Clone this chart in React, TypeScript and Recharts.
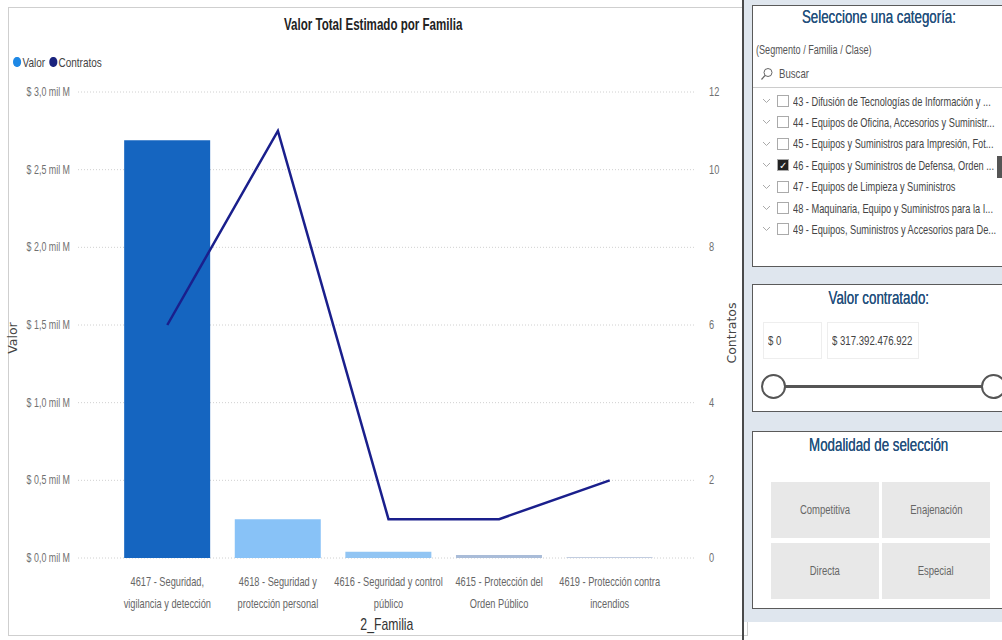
import React from 'react';
import { ComposedChart, Bar, Line, XAxis, YAxis, CartesianGrid, Cell } from 'recharts';

const familias = [
  '4617 - Seguridad,\nvigilancia y detección',
  '4618 - Seguridad y\nprotección personal',
  '4616 - Seguridad y control\npúblico',
  '4615 - Protección del\nOrden Público',
  '4619 - Protección contra\nincendios',
];
// valor in "mil M" (thousands of millions)
const valor = [2.69, 0.25, 0.04, 0.02, 0.007];
const contratos = [6, 11, 1, 1, 2];
const barColors = ['#1565C0', '#88C2F7', '#92C5F3', '#A9BCD8', '#C2CDE0'];
const valorTicks = [0, 0.5, 1, 1.5, 2, 2.5, 3];
const contratosTicks = [0, 2, 4, 6, 8, 10, 12];

const categorias = [
  '43 - Difusión de Tecnologías de Información y ...',
  '44 - Equipos de Oficina, Accesorios y Suministr...',
  '45 - Equipos y Suministros para Impresión, Fot...',
  '46 - Equipos y Suministros de Defensa, Orden ...',
  '47 - Equipos de Limpieza y Suministros',
  '48 - Maquinaria, Equipo y Suministros para la I...',
  '49 - Equipos, Suministros y Accesorios para De...',
];
const modalidades = ['Competitiva', 'Enajenación', 'Directa', 'Especial'];

const data = familias.map((f, i) => ({ familia: f, valor: valor[i], contratos: contratos[i] }));

const FONT = '"Liberation Sans", Arial, sans-serif';
const SQ = 0.74; // horizontal squeeze to mimic the condensed font

const fmtValor = (v: number) => `$ ${v.toFixed(1).replace('.', ',')} mil M`;

// narrow text for html
const N: React.FC<{ s?: number; origin?: string; style?: React.CSSProperties; children?: React.ReactNode }> = ({
  s = SQ,
  origin = 'left',
  style,
  children,
}) => (
  <span style={{ display: 'inline-block', whiteSpace: 'nowrap', transform: `scaleX(${s})`, transformOrigin: origin, ...style }}>
    {children}
  </span>
);

const FamiliaTick = (props: any) => {
  const { x, y, payload } = props;
  const lines = String(payload.value).split('\n');
  return (
    <g transform={`translate(${x},${y}) scale(${SQ},1)`}>
      {lines.map((l, i) => (
        <text key={i} x={0} y={20 + i * 22} textAnchor="middle" fill="#666" fontSize={12.5} fontFamily={FONT}>
          {l}
        </text>
      ))}
    </g>
  );
};

const ValorTick = (props: any) => {
  const { x, y, payload } = props;
  return (
    <g transform={`translate(${x},${y}) scale(${SQ},1)`}>
      <text x={0} y={0} dy={4} textAnchor="end" fill="#707070" fontSize={12} fontFamily={FONT}>
        {fmtValor(payload.value)}
      </text>
    </g>
  );
};

const ContratosTick = (props: any) => {
  const { x, y, payload } = props;
  return (
    <g transform={`translate(${x},${y}) scale(${SQ},1)`}>
      <text x={0} y={0} dy={4} textAnchor="start" fill="#707070" fontSize={12.5} fontFamily={FONT}>
        {payload.value}
      </text>
    </g>
  );
};

const Box: React.FC<{ top: number; height: number; children?: React.ReactNode }> = ({ top, height, children }) => (
  <div
    style={{
      position: 'absolute',
      left: 752,
      top,
      width: 260,
      height,
      background: '#fff',
      border: '1.5px solid #5a5a5a',
      boxSizing: 'border-box',
    }}
  >
    {children}
  </div>
);

const BoxTitle: React.FC<{ top: number; children?: React.ReactNode }> = ({ top, children }) => (
  <div style={{ position: 'absolute', left: 0, top, width: 252, textAlign: 'center', color: '#24507C', fontSize: 18.5, textShadow: '0 0 0.4px #24507C' }}>
    <N s={0.72} origin="center">{children}</N>
  </div>
);

const Chevron = () => (
  <svg width={12} height={8} style={{ marginRight: 4 }}>
    <polyline points="2,2 5.5,5.5 9,2" fill="none" stroke="#aaa" strokeWidth={1} />
  </svg>
);

export default function App() {
  return (
    <div style={{ position: 'absolute', left: 0, top: 0, width: 1002, height: 640, background: '#fff', overflow: 'hidden', fontFamily: FONT }}>
      {/* chart card */}
      <div style={{ position: 'absolute', left: 8, top: 7, width: 740, height: 629, border: '1px solid #cfcfcf', boxSizing: 'border-box' }} />
      <div style={{ position: 'absolute', left: 0, top: 15, width: 746, textAlign: 'center', fontSize: 17, fontWeight: 'bold', color: '#222' }}>
        <N s={0.68} origin="center">Valor Total Estimado por Familia</N>
      </div>
      <div style={{ position: 'absolute', left: 13, top: 55, fontSize: 13.5, color: '#444' }}>
        <N s={0.74}>
          <span style={{ display: 'inline-block', width: 11, height: 10, borderRadius: 5, background: '#1E88E5', marginRight: 2 }} />
          Valor
          <span style={{ display: 'inline-block', width: 11, height: 10, borderRadius: 5, background: '#1A237E', margin: '0 2px 0 5px' }} />
          Contratos
        </N>
      </div>
      <div style={{ position: 'absolute', left: 0, top: 0 }}>
        <ComposedChart width={740} height={640} data={data} margin={{ top: 92, right: 5, left: 8, bottom: 12 }} barCategoryGap="11%">
          <CartesianGrid yAxisId="left" vertical={false} stroke="#d0d0d0" strokeDasharray="1 2" />
          <XAxis
            dataKey="familia"
            tick={<FamiliaTick />}
            tickLine={false}
            axisLine={false}
            interval={0}
            height={70}
            padding={{ left: 34, right: 30 }}
          />
          <YAxis
            yAxisId="left"
            domain={[0, 3]}
            ticks={valorTicks}
            tick={<ValorTick />}
            tickLine={false}
            axisLine={false}
            width={70}
            tickMargin={2}
          />
          <YAxis
            yAxisId="right"
            orientation="right"
            domain={[0, 12]}
            ticks={contratosTicks}
            tick={<ContratosTick />}
            tickLine={false}
            axisLine={false}
            width={40}
            tickMargin={8}
          />
          <Bar yAxisId="left" dataKey="valor" isAnimationActive={false}>
            {data.map((d, i) => (
              <Cell key={d.familia} fill={barColors[i]} />
            ))}
          </Bar>
          <Line yAxisId="right" dataKey="contratos" type="linear" stroke="#1A1F8C" strokeWidth={2.5} dot={false} isAnimationActive={false} />
        </ComposedChart>
      </div>
      <div style={{ position: 'absolute', left: 12, top: 338, transform: 'translate(-50%,-50%) rotate(-90deg)', fontSize: 12.5, color: '#444', fontFamily: '"DejaVu Sans", sans-serif' }}>
        Valor
      </div>
      <div style={{ position: 'absolute', left: 731, top: 333, transform: 'translate(-50%,-50%) rotate(-90deg)', fontSize: 12.5, color: '#444', fontFamily: '"DejaVu Sans", sans-serif' }}>
        Contratos
      </div>
      <div style={{ position: 'absolute', left: 78, width: 617, top: 615, textAlign: 'center', fontSize: 17, color: '#333' }}>
        <N s={0.72} origin="center">2_Familia</N>
      </div>

      {/* right panel */}
      <div style={{ position: 'absolute', left: 744, top: 0, width: 258, height: 622, background: '#DFE6EE' }} />
      <div style={{ position: 'absolute', left: 742, top: 0, width: 2, height: 640, background: '#4a4a4a' }} />

      <Box top={5} height={262}>
        <BoxTitle top={0}>Seleccione una categoría:</BoxTitle>
        <div style={{ position: 'absolute', left: 3, top: 37, fontSize: 12, color: '#555' }}>
          <N s={0.76}>(Segmento / Familia / Clase)</N>
        </div>
        <div style={{ position: 'absolute', left: 7, top: 60, fontSize: 13, color: '#555', display: 'flex', alignItems: 'center' }}>
          <svg width={14} height={14} style={{ marginRight: 5 }}>
            <circle cx={8} cy={5.5} r={4} fill="none" stroke="#666" strokeWidth={1} />
            <line x1={5} y1={8.5} x2={1.5} y2={12.5} stroke="#666" strokeWidth={1.2} />
          </svg>
          <N>Buscar</N>
        </div>
        <div style={{ position: 'absolute', left: 0, top: 81, width: 260, height: 1, background: '#ccc' }} />
        {categorias.map((c, i) => (
          <div
            key={c}
            style={{ position: 'absolute', left: 8, top: 85 + i * 21.4, height: 20, display: 'flex', alignItems: 'center', whiteSpace: 'nowrap', fontSize: 13.5, color: '#444' }}
          >
            <Chevron />
            <span
              style={{
                display: 'inline-block',
                width: 12,
                height: 12,
                boxSizing: 'border-box',
                border: '1px solid #aaa',
                background: i === 3 ? '#222' : '#fff',
                color: '#fff',
                fontSize: 10,
                lineHeight: '11px',
                textAlign: 'center',
                marginRight: 4,
              }}
            >
              {i === 3 ? '✓' : ''}
            </span>
            <N s={0.685}>{c}</N>
          </div>
        ))}
        <div style={{ position: 'absolute', left: 244, top: 150, width: 5, height: 22, background: '#555' }} />
      </Box>

      <Box top={284} height={128}>
        <BoxTitle top={2}>Valor contratado:</BoxTitle>
        <div style={{ position: 'absolute', left: 10, top: 37, width: 59, height: 37, border: '1px solid #eee', boxSizing: 'border-box', fontSize: 13, color: '#444', padding: '10px 4px' }}>
          <N>$ 0</N>
        </div>
        <div style={{ position: 'absolute', left: 74, top: 37, width: 92, height: 37, border: '1px solid #eee', boxSizing: 'border-box', fontSize: 13, color: '#444', padding: '10px 4px' }}>
          <N>$ 317.392.476.922</N>
        </div>
        <div style={{ position: 'absolute', left: 22, top: 100, width: 220, height: 3, background: '#555' }} />
        <div style={{ position: 'absolute', left: 8, top: 89, width: 25, height: 25, borderRadius: 13, border: '2px solid #555', background: '#fff', boxSizing: 'border-box' }} />
        <div style={{ position: 'absolute', left: 228, top: 89, width: 25, height: 25, borderRadius: 13, border: '2px solid #555', background: '#fff', boxSizing: 'border-box' }} />
      </Box>

      <Box top={431} height={178}>
        <BoxTitle top={2}>Modalidad de selección</BoxTitle>
        {modalidades.map((m, i) => (
          <div
            key={m}
            style={{
              position: 'absolute',
              left: 18 + (i % 2) * 111,
              top: 50 + Math.floor(i / 2) * 61,
              width: 108,
              height: 56,
              background: '#E8E8E8',
              display: 'flex',
              alignItems: 'center',
              justifyContent: 'center',
              fontSize: 12.5,
              color: '#666',
            }}
          >
            <N s={0.76} origin="center">{m}</N>
          </div>
        ))}
      </Box>
    </div>
  );
}
